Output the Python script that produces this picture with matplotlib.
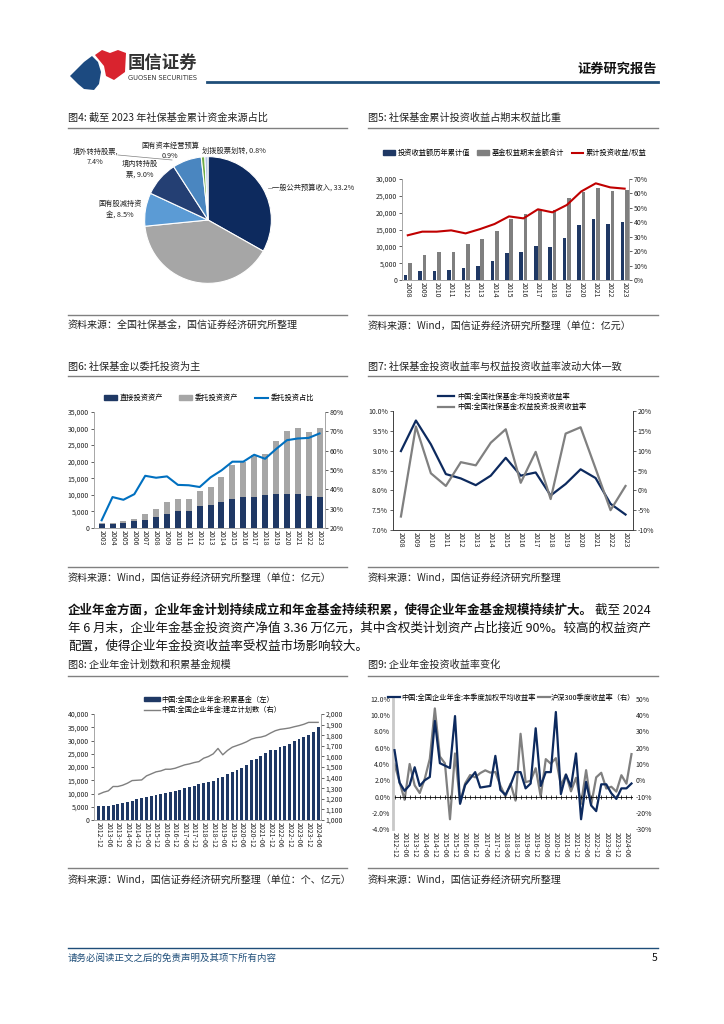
import numpy as np
import matplotlib
matplotlib.use('Agg')
import matplotlib.pyplot as plt
from matplotlib.ticker import FuncFormatter
from matplotlib.patches import Polygon, Patch
from matplotlib.lines import Line2D

plt.rcParams['font.family'] = ['Noto Sans CJK SC', 'DejaVu Sans']
plt.rcParams['axes.unicode_minus'] = False

W, H = 724, 1024

# %% data
# fig4: sources of NSSF funding (%)
pie_names = ['一般公共预算收入, 33.2%', '彩票公益金, 40.3%', '国有股减持资\n金, 8.5%',
             '境内转持股\n票, 9.0%', '境外转持股票,\n7.4%', '国有资本经营预算\n0.9%',
             '划拨股票划转, 0.8%']
pie_values = [33.2, 40.3, 8.5, 9.0, 7.4, 0.9, 0.8]

# fig5
years5 = [str(y) for y in range(2008, 2024)]
cum_income = [1600, 2600, 2800, 3000, 3500, 4250, 5700, 8000, 8400, 10200, 9700,
              12600, 16400, 18100, 16700, 17100]
equity_total = [5150, 7400, 8300, 8300, 10800, 12100, 14650, 18100, 19600, 20700,
                20800, 24450, 26100, 27300, 26300, 26800]
income_ratio = [31.0, 33.5, 33.5, 34.4, 32.3, 35.3, 38.8, 44.1, 42.7, 49.0, 46.9,
                52.0, 61.4, 67.0, 64.2, 63.3]

# fig6
years6 = [str(y) for y in range(2003, 2024)]
direct_assets = [1100, 1200, 1600, 2000, 2500, 3200, 4300, 5200, 5200, 6600, 6800,
                 7700, 8900, 9500, 9500, 10000, 10300, 10300, 10300, 9800, 9500]
entrusted_assets = [400, 400, 600, 800, 1800, 2500, 3400, 3400, 3700, 4600, 5700,
                    7700, 10200, 10500, 12400, 12400, 16000, 18900, 20000, 19200, 20700]
entrusted_share = [24.0, 36.0, 34.6, 37.5, 47.0, 46.0, 46.7, 42.3, 42.1, 41.2, 46.2,
                   49.8, 54.3, 54.3, 57.9, 55.8, 60.8, 65.4, 66.3, 66.6, 68.9]

# fig7
years7 = [str(y) for y in range(2008, 2024)]
avg_return = [8.99, 9.76, 9.16, 8.41, 8.30, 8.13, 8.37, 8.82, 8.37, 8.45, 7.87, 8.16,
              8.53, 8.31, 7.66, 7.39]
equity_return = [-6.6, 16.1, 4.3, 1.1, 7.1, 6.3, 12.0, 15.4, 1.9, 9.7, -2.2, 14.3,
                 15.9, 5.5, -5.0, 1.1]

# fig8 (quarterly 2012-12 .. 2024-06)
fund_accum = [5200, 5250, 5300, 5700, 6000, 6300, 6700, 7100, 7800, 8300, 8800, 8900,
              9500, 9700, 10200, 10700, 11000, 11500, 12000, 12500, 12900, 13400, 13900,
              14300, 14800, 15900, 16400, 17200, 18000, 18700, 19800, 20900, 22500,
              23100, 24200, 25200, 26400, 26300, 27500, 28100, 28700, 29900, 30600,
              31200, 32000, 33300, 35000]
plan_count = [1243, 1262, 1275, 1316, 1316, 1328, 1347, 1372, 1375, 1378, 1416, 1435,
              1454, 1463, 1479, 1479, 1488, 1504, 1520, 1529, 1542, 1551, 1583, 1599,
              1624, 1675, 1615, 1656, 1687, 1703, 1719, 1738, 1763, 1776, 1782, 1795,
              1820, 1842, 1855, 1861, 1868, 1880, 1890, 1903, 1921, 1921, 1921]
half_labels = [f'{y}-{m}' for y in range(2012, 2025) for m in ('06', '12')][1:-1]

# fig9 (quarterly 2012-12 .. 2024-09)
ea_return = [5.7, 1.7, 0.7, 1.4, 3.6, 1.3, 2.0, 2.4, 9.3, 4.1, 3.8, 3.5, 9.9, -0.9,
             1.4, 2.2, 3.0, 1.1, 1.2, 1.3, 5.0, 0.8, 0.2, 1.4, 3.0, 3.0, 1.0, 1.6, 8.4,
             1.3, 3.0, 3.0, 10.4, 0.3, 2.7, 1.2, 5.3, -2.8, 1.8, -1.1, -1.8, 1.5, 1.5,
             0.4, -0.3, 1.0, 1.0, 1.6]
hs300_return = [10.0, -1.1, -12.0, 10.0, -3.2, -7.9, 0.9, 13.2, 44.2, 14.6, 10.4,
                -24.0, 16.5, -13.8, -2.0, 3.2, 1.8, 4.4, 6.1, 4.7, 5.1, -3.3, -10.0,
                -2.1, -12.5, 28.6, -1.2, -0.3, 7.4, -10.0, 13.0, 10.2, 13.6, -3.1, 3.5,
                -6.8, 1.5, -14.5, 6.2, -15.2, 1.8, 4.6, -5.1, -4.0, -7.0, 3.1, -2.1, 16.1]

NAVY = '#1f3864'
TXT = '#222222'
TICK_FS = 5
LEG_FS = 5.2

# %% figure + page overlay in pixel coords
fig = plt.figure(figsize=(W / 100, H / 100), dpi=100)
ov = fig.add_axes([0, 0, 1, 1])
ov.set_xlim(0, W)
ov.set_ylim(H, 0)
ov.axis('off')


def box(x0, y0, x1, y1):
    a = fig.add_axes([x0 / W, 1 - y1 / H, (x1 - x0) / W, (y1 - y0) / H])
    a.patch.set_alpha(0)
    return a


def fx(x):
    return x / W


def fy(y):
    return 1 - y / H


# header (logo drawn roughly)
ov.add_patch(Polygon([(70, 76), (84, 62), (92, 56), (98, 62), (101, 72), (99, 84),
                      (94, 90), (84, 89), (78, 84)], closed=True, color='#1c4a80', lw=0))
ov.add_patch(Polygon([(95, 55), (102, 50), (110, 53), (118, 50), (126, 53), (125, 72),
                      (114, 80), (106, 76), (104, 66)], closed=True, color='#d9232e', lw=0))
ov.text(128, 63, '国信证券', fontsize=12.5, fontweight='bold', color='#333333', va='center')
ov.text(128, 78, 'GUOSEN SECURITIES', fontsize=4.8, color='#333333', va='center',
        family='DejaVu Sans')
ov.text(657, 69, '证券研究报告', fontsize=9.5, fontweight='bold', color='#111111',
        va='center', ha='right')
ov.plot([207, 658], [82, 82], color='#1f4e79', lw=2)

# titles, underlines, sources
titles = [(68, 118, '图4: 截至 2023 年社保基金累计资金来源占比'),
          (368, 118, '图5: 社保基金累计投资收益占期末权益比重'),
          (68, 367, '图6: 社保基金以委托投资为主'),
          (368, 367, '图7: 社保基金投资收益率与权益投资收益率波动大体一致'),
          (68, 665, '图8: 企业年金计划数和积累基金规模'),
          (368, 665, '图9: 企业年金投资收益率变化')]
for x, y, t in titles:
    ov.text(x, y, t, fontsize=7.3, color=TXT, va='center')
for y in (128, 376, 676):
    ov.plot([68, 347], [y, y], color='#808080', lw=1)
    ov.plot([368, 658], [y, y], color='#808080', lw=1)
for y in (315, 567, 868):
    ov.plot([68, 347], [y, y], color='#808080', lw=1)
    ov.plot([368, 658], [y, y], color='#808080', lw=1)
sources = [(68, 326, '资料来源：全国社保基金，国信证券经济研究所整理'),
           (368, 326, '资料来源：Wind，国信证券经济研究所整理（单位：亿元）'),
           (68, 578, '资料来源：Wind，国信证券经济研究所整理（单位：亿元）'),
           (368, 578, '资料来源：Wind，国信证券经济研究所整理'),
           (68, 880, '资料来源：Wind，国信证券经济研究所整理（单位：个、亿元）'),
           (368, 880, '资料来源：Wind，国信证券经济研究所整理')]
for x, y, t in sources:
    ov.text(x, y, t, fontsize=7.2, color=TXT, va='center')

# body paragraph
bold_part = '企业年金方面，企业年金计划持续成立和年金基金持续积累，使得企业年金基金规模持续扩大。'
tb = ov.text(68, 610, bold_part, fontsize=9, fontweight='bold', color='#111111', va='center')
r = fig.canvas.get_renderer()
bb = tb.get_window_extent(renderer=r)
ov.text(68 + bb.width + 2, 610, '截至 2024', fontsize=9, color='#111111', va='center')
ov.text(68, 628, '年 6 月末，企业年金基金投资资产净值 3.36 万亿元，其中含权类计划资产占比接近 90%。较高的权益资产',
        fontsize=9, color='#111111', va='center')
ov.text(68, 646, '配置，使得企业年金投资收益率受权益市场影响较大。', fontsize=9,
        color='#111111', va='center')

# footer
ov.plot([68, 658], [948, 948], color='#1f4e79', lw=1)
ov.text(68, 958, '请务必阅读正文之后的免责声明及其项下所有内容', fontsize=6.8,
        color='#1f4e79', style='italic', va='center')
ov.text(657, 958, '5', fontsize=7.5, color='#111111', va='center', ha='right')


def style_axes(ax, spine_color='#a6a6a6'):
    for s in ax.spines.values():
        s.set_color(spine_color)
        s.set_linewidth(0.6)
    ax.spines['top'].set_visible(False)
    ax.tick_params(labelsize=TICK_FS, colors=TXT, length=2, width=0.5, pad=1.5)


thousands = FuncFormatter(lambda v, p: f'{v:,.0f}')
pct0 = FuncFormatter(lambda v, p: f'{v:.0f}%')
pct1 = FuncFormatter(lambda v, p: f'{v:.1f}%')

# %% fig4 pie
axp = box(144, 156, 272, 284)
pie_colors = ['#0d2a5e', '#a6a6a6', '#5b9bd5', '#243f73', '#4a86c0', '#70ad47', '#b4c7e7']
axp.pie(pie_values, colors=pie_colors, startangle=90, counterclock=False,
        wedgeprops=dict(edgecolor='white', linewidth=0.8))
axp.set_xlim(-1.01, 1.01)
axp.set_ylim(-1.01, 1.01)
axp.set_aspect('equal')
pie_pos = [(272, 188, 'left'), (208, 247, 'center'), (142, 209, 'right'),
           (158, 169, 'right'), (118, 157, 'right'), (170, 151, 'center'),
           (202, 151, 'left')]
for (x, y, ha), t in zip(pie_pos, pie_names):
    ov.text(x, y, t, fontsize=5.2, color=TXT, ha=ha, va='center', multialignment='center',
            linespacing=1.5)
ov.plot([268, 272], [188, 188], color='#808080', lw=0.5)
ov.plot([118, 172], [155, 160], color='#808080', lw=0.5)

# %% fig5
ax5 = box(402, 179, 629, 280)
x5 = np.arange(len(years5))
ax5.bar(x5 - 0.15, cum_income, width=0.25, color=NAVY)
ax5.bar(x5 + 0.15, equity_total, width=0.25, color='#7f7f7f')
ax5.set_ylim(0, 30000)
ax5.set_yticks(range(0, 30001, 5000))
ax5.yaxis.set_major_formatter(thousands)
ax5.set_xlim(-0.4, 15.3)
ax5.set_xticks(x5)
ax5.set_xticklabels(years5, rotation=-90)
style_axes(ax5)
ax5.tick_params(axis='x', length=0)
ax5b = ax5.twinx()
ax5b.plot(x5, income_ratio, color='#c00000', lw=1.5)
ax5b.set_ylim(0, 70)
ax5b.set_yticks(range(0, 71, 10))
ax5b.yaxis.set_major_formatter(pct0)
style_axes(ax5b)
fig.legend([Patch(color=NAVY), Patch(color='#7f7f7f'), Line2D([], [], color='#c00000', lw=1.5)],
           ['投资收益额历年累计值', '基金权益期末金额合计', '累计投资收益/权益'],
           loc='center', bbox_to_anchor=(fx(515), fy(153)), ncol=3, frameon=False,
           fontsize=LEG_FS, handlelength=1.6, handleheight=0.6, columnspacing=1.0,
           handletextpad=0.4)

# %% fig6
ax6 = box(94, 412, 325, 528)
x6 = np.arange(len(years6))
ax6.bar(x6, direct_assets, width=0.55, color=NAVY)
ax6.bar(x6, entrusted_assets, bottom=direct_assets, width=0.55, color='#a6a6a6')
ax6.set_ylim(0, 35000)
ax6.set_yticks(range(0, 35001, 5000))
ax6.yaxis.set_major_formatter(thousands)
ax6.set_xlim(-0.7, 20.5)
ax6.set_xticks(x6)
ax6.set_xticklabels(years6, rotation=-90)
style_axes(ax6)
ax6.tick_params(axis='x', length=0)
ax6b = ax6.twinx()
ax6b.plot(x6, entrusted_share, color='#0070c0', lw=1.5)
ax6b.set_ylim(20, 80)
ax6b.set_yticks(range(20, 81, 10))
ax6b.yaxis.set_major_formatter(pct0)
style_axes(ax6b)
fig.legend([Patch(color=NAVY), Patch(color='#a6a6a6'), Line2D([], [], color='#0070c0', lw=1.5)],
           ['直接投资资产', '委托投资资产', '委托投资占比'],
           loc='center', bbox_to_anchor=(fx(209), fy(398)), ncol=3, frameon=False,
           fontsize=LEG_FS, handlelength=1.8, handleheight=0.6, columnspacing=2.2,
           handletextpad=0.4)

# %% fig7
ax7 = box(393, 411, 633, 530)
x7 = np.arange(len(years7))
ax7.plot(x7, avg_return, color='#0d2a5e', lw=1.6)
ax7.set_ylim(7.0, 10.0)
ax7.set_yticks(np.arange(7.0, 10.01, 0.5))
ax7.yaxis.set_major_formatter(pct1)
ax7.set_xlim(-0.53, 15.5)
ax7.set_xticks(x7)
ax7.set_xticklabels(years7, rotation=-90)
style_axes(ax7, '#404040')
ax7.tick_params(axis='x', length=0)
ax7b = ax7.twinx()
ax7b.plot(x7, equity_return, color='#808080', lw=1.6)
ax7b.set_ylim(-10, 20)
ax7b.set_yticks(range(-10, 21, 5))
ax7b.yaxis.set_major_formatter(pct0)
style_axes(ax7b, '#404040')
fig.legend([Line2D([], [], color='#0d2a5e', lw=1.6), Line2D([], [], color='#808080', lw=1.6)],
           ['中国:全国社保基金:年均投资收益率', '中国:全国社保基金:权益投资:投资收益率'],
           loc='center left', bbox_to_anchor=(fx(434), fy(402)), ncol=1, frameon=False,
           fontsize=LEG_FS, handlelength=2.2, labelspacing=0.35, handletextpad=0.5,
           borderpad=0)

# %% fig8
ax8 = box(94, 714, 321, 820)
x8 = np.arange(len(fund_accum))
ax8.bar(x8, fund_accum, width=0.6, color=NAVY)
ax8.set_ylim(0, 40000)
ax8.set_yticks(range(0, 40001, 5000))
ax8.yaxis.set_major_formatter(thousands)
ax8.set_xlim(-1, 46.6)
ax8.set_xticks(x8[::2])
ax8.set_xticklabels(half_labels, rotation=-90)
style_axes(ax8)
ax8.tick_params(axis='x', length=0)
ax8b = ax8.twinx()
ax8b.plot(x8, plan_count, color='#7f7f7f', lw=1)
ax8b.set_ylim(1000, 2000)
ax8b.set_yticks(range(1000, 2001, 100))
ax8b.yaxis.set_major_formatter(thousands)
style_axes(ax8b)
fig.legend([Patch(color=NAVY), Line2D([], [], color='#7f7f7f', lw=1)],
           ['中国:全国企业年金:积累基金（左）', '中国:全国企业年金:建立计划数（右）'],
           loc='center left', bbox_to_anchor=(fx(140), fy(705)), ncol=1, frameon=False,
           fontsize=LEG_FS, handlelength=2.2, handleheight=0.6, labelspacing=0.35,
           handletextpad=0.3, borderpad=0)

# %% fig9
ax9 = box(393, 699, 633, 829)
x9 = np.arange(len(ea_return))
ax9.plot(x9, ea_return, color='#0d2a5e', lw=1.6, zorder=3)
ax9.axhline(0, color='black', lw=0.6, zorder=1)
ax9.plot(x9, np.zeros(len(x9)), '|', color='black', ms=2.5, mew=0.5, zorder=1)
ax9.set_ylim(-4, 12)
ax9.set_yticks(range(-4, 13, 2))
ax9.yaxis.set_major_formatter(pct1)
ax9.set_xlim(-0.3, 47.3)
ax9.set_xticks(x9[:47:2])
ax9.set_xticklabels(half_labels, rotation=-90)
for s in ax9.spines.values():
    s.set_visible(False)
ax9.spines['left'].set_visible(True)
ax9.spines['left'].set_color('#c8c8c8')
ax9.spines['left'].set_linewidth(2)
ax9.tick_params(labelsize=TICK_FS, colors=TXT, length=0, pad=2)
ax9b = ax9.twinx()
ax9b.plot(x9, hs300_return, color='#808080', lw=1.6, zorder=2)
ax9b.set_ylim(-30, 50)
ax9b.set_yticks(range(-30, 51, 10))
ax9b.yaxis.set_major_formatter(pct0)
for s in ax9b.spines.values():
    s.set_visible(False)
ax9b.tick_params(labelsize=TICK_FS, colors=TXT, length=0, pad=2)
ax9.set_zorder(ax9b.get_zorder() + 1)
ax9.patch.set_visible(False)
fig.legend([Line2D([], [], color='#0d2a5e', lw=1.6), Line2D([], [], color='#808080', lw=1.6)],
           ['中国:全国企业年金:本季度加权平均收益率', '沪深300季度收益率（右）'],
           loc='center', bbox_to_anchor=(fx(512), fy(698)), ncol=2, frameon=False,
           fontsize=LEG_FS, handlelength=1.6, columnspacing=0.3, handletextpad=0.2)

fig.savefig('out.png', dpi=100)
